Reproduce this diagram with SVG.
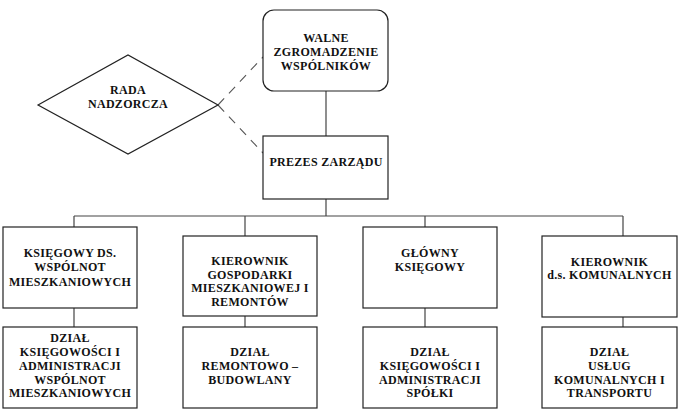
<svg xmlns="http://www.w3.org/2000/svg" width="680" height="412" viewBox="0 0 680 412">
<style>
.box{fill:#fff;stroke:#222;stroke-width:1.2}
.ln{fill:none;stroke:#444;stroke-width:1.2}
.dash{fill:none;stroke:#555;stroke-width:1.1;stroke-dasharray:9 7}
text{font-family:"Liberation Serif","Times New Roman",serif;font-weight:bold;font-size:12px;letter-spacing:0.3px;fill:#111;text-anchor:middle}
</style>
<rect width="680" height="412" fill="#fff"/>
<g id="connectors">
<line class="ln" x1="326" y1="91" x2="326" y2="136"/>
<line class="ln" x1="326" y1="199" x2="326" y2="216"/>
<line class="ln" x1="74" y1="216" x2="623" y2="216"/>
<line class="ln" x1="74" y1="216" x2="74" y2="227"/>
<line class="ln" x1="245" y1="216" x2="245" y2="236"/>
<line class="ln" x1="425" y1="216" x2="425" y2="227"/>
<line class="ln" x1="623" y1="216" x2="623" y2="236"/>
<line class="ln" x1="74" y1="308" x2="74" y2="327"/>
<line class="ln" x1="245" y1="316" x2="245" y2="327"/>
<line class="ln" x1="425" y1="308" x2="425" y2="327"/>
<line class="ln" x1="623" y1="317" x2="623" y2="327"/>
<line class="dash" x1="218" y1="105" x2="263" y2="57"/>
<line class="dash" x1="218" y1="105" x2="263" y2="153"/>
</g>
<g id="walne">
<rect class="box" x="263" y="10" width="125" height="81" rx="11"/>
<text x="326" y="42">WALNE</text>
<text x="326" y="56">ZGROMADZENIE</text>
<text x="326" y="70">WSPÓLNIKÓW</text>
</g>
<g id="rada">
<polygon class="box" points="38,105 128,55 218,105 128,154"/>
<text x="128" y="94">RADA</text>
<text x="128" y="107.5">NADZORCZA</text>
</g>
<g id="prezes">
<rect class="box" x="263" y="136" width="125" height="63"/>
<text x="326" y="166">PREZES ZARZĄDU</text>
</g>
<g id="ksiegowy-ds">
<rect class="box" x="3" y="227" width="134" height="81"/>
<text x="70" y="257">KSIĘGOWY DS.</text>
<text x="70" y="271">WSPÓLNOT</text>
<text x="70" y="286">MIESZKANIOWYCH</text>
</g>
<g id="kierownik-gosp">
<rect class="box" x="183" y="236" width="134" height="80"/>
<text x="250" y="265">KIEROWNIK</text>
<text x="250" y="278.5">GOSPODARKI</text>
<text x="250" y="292">MIESZKANIOWEJ I</text>
<text x="250" y="305.5">REMONTÓW</text>
</g>
<g id="glowny">
<rect class="box" x="363" y="227" width="134" height="81"/>
<text x="430" y="257">GŁÓWNY</text>
<text x="430" y="271">KSIĘGOWY</text>
</g>
<g id="kierownik-kom">
<rect class="box" x="542" y="236" width="135" height="81"/>
<text x="609.5" y="265.5">KIEROWNIK</text>
<text x="609.5" y="279">d.s. KOMUNALNYCH</text>
</g>
<g id="dzial-wspolnot">
<rect class="box" x="3" y="327" width="134" height="81"/>
<text x="70" y="342">DZIAŁ</text>
<text x="70" y="356">KSIĘGOWOŚCI I</text>
<text x="70" y="370">ADMINISTRACJI</text>
<text x="70" y="383.5">WSPÓLNOT</text>
<text x="70" y="397">MIESZKANIOWYCH</text>
</g>
<g id="dzial-remontowo">
<rect class="box" x="183" y="327" width="134" height="81"/>
<text x="250" y="356">DZIAŁ</text>
<text x="250" y="370">REMONTOWO –</text>
<text x="250" y="383.5">BUDOWLANY</text>
</g>
<g id="dzial-spolki">
<rect class="box" x="363" y="327" width="134" height="81"/>
<text x="430" y="356">DZIAŁ</text>
<text x="430" y="370">KSIĘGOWOŚCI I</text>
<text x="430" y="383.5">ADMINISTRACJI</text>
<text x="430" y="397">SPÓŁKI</text>
</g>
<g id="dzial-uslug">
<rect class="box" x="542" y="327" width="135" height="81"/>
<text x="609.5" y="356">DZIAŁ</text>
<text x="609.5" y="370">USŁUG</text>
<text x="609.5" y="383.5">KOMUNALNYCH I</text>
<text x="609.5" y="397">TRANSPORTU</text>
</g>
</svg>
